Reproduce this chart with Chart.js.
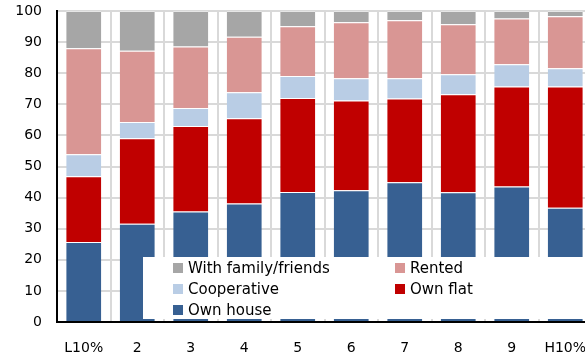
<!DOCTYPE html>
<html>
<head>
<meta charset="utf-8">
<script src="https://cdn.jsdelivr.net/npm/chart.js@4.4.1/dist/chart.umd.min.js"></script>
<style>
  html, body { margin: 0; padding: 0; background: #fff; overflow: hidden; }
  #wrap { position: relative; width: 594px; height: 356px; }
</style>
</head>
<body>
<div id="wrap"><canvas id="c" width="594" height="356"></canvas></div>
<script>
// Income deciles
const categories = ['L10%', '2', '3', '4', '5', '6', '7', '8', '9', 'H10%'];

// Housing tenure shares (% of households), stacked bottom to top
const ownHouse    = [25.7, 31.6, 35.5, 38.1, 41.8, 42.4, 44.9, 41.7, 43.6, 36.7];
const ownFlat     = [21.2, 27.5, 27.5, 27.4, 30.2, 28.8, 27.0, 31.5, 32.1, 39.0];
const cooperative = [ 7.0,  5.2,  5.8,  8.4,  7.1,  7.2,  6.5,  6.5,  7.2,  5.9];
const rented      = [34.1, 22.9, 19.8, 17.8, 16.0, 18.0, 18.6, 16.0, 14.7, 16.7];
const withFamily  = [12.0, 12.8, 11.4,  8.3,  4.9,  3.6,  3.0,  4.3,  2.4,  1.7];

const yTicks = [0, 10, 20, 30, 40, 50, 60, 70, 80, 90, 100];

const FONT = 'DejaVu Sans';
const COLORS = {
  house: '#376092',
  flat: '#c00000',
  coop: '#b9cde5',
  rented: '#d99694',
  family: '#a6a6a6'
};

const series = [
  { label: 'Own house', data: ownHouse, color: COLORS.house },
  { label: 'Own flat', data: ownFlat, color: COLORS.flat },
  { label: 'Cooperative', data: cooperative, color: COLORS.coop },
  { label: 'Rented', data: rented, color: COLORS.rented },
  { label: 'With family/friends', data: withFamily, color: COLORS.family }
];

// Legend drawn inside the plot area on a white panel, two columns
const insideLegend = {
  id: 'insideLegend',
  afterDatasetsDraw(chart) {
    const ctx = chart.ctx;
    const area = chart.chartArea;
    ctx.save();
    ctx.fillStyle = '#ffffff';
    ctx.fillRect(143, 257, 600, area.bottom - 3 - 257);
    const order = [4, 3, 2, 1, 0]; // family, rented, coop, flat, house
    const colX = [173, 395];
    const rowY = [268, 289, 310];
    ctx.font = '15px "' + FONT + '"';
    ctx.textBaseline = 'middle';
    ctx.textAlign = 'left';
    order.forEach((dsIndex, i) => {
      const ds = chart.data.datasets[dsIndex];
      const x = colX[i % 2];
      const y = rowY[Math.floor(i / 2)];
      ctx.fillStyle = ds.backgroundColor;
      ctx.fillRect(x, y - 5, 10, 10);
      ctx.fillStyle = '#000000';
      ctx.fillText(ds.label, x + 15, y + 1);
    });
    ctx.restore();
  }
};

new Chart(document.getElementById('c'), {
  type: 'bar',
  data: {
    labels: categories,
    datasets: series.map(s => ({
      label: s.label,
      data: s.data,
      backgroundColor: s.color,
      borderColor: 'rgba(255,255,255,0.35)',
      borderWidth: { top: 1, bottom: 0, left: 0, right: 0 },
      borderSkipped: false,
      categoryPercentage: 1.0,
      barPercentage: 0.655
    }))
  },
  options: {
    responsive: false,
    animation: false,
    devicePixelRatio: 1,
    layout: { padding: { top: 11, right: 2, left: 0, bottom: 0 } },
    plugins: {
      legend: { display: false },
      tooltip: { enabled: false }
    },
    scales: {
      x: {
        stacked: true,
        afterFit(axis) {
          axis.height = 34;
          axis.paddingLeft = 0;
          axis.paddingRight = 0;
        },
        grid: {
          display: true,
          offset: true,
          color: '#d9d9d9',
          lineWidth: 2,
          drawTicks: false
        },
        border: { display: true, color: '#000000', width: 2 },
        ticks: {
          color: '#000000',
          font: { family: FONT, size: 14 },
          padding: 18,
          maxRotation: 0,
          autoSkip: false
        }
      },
      y: {
        stacked: true,
        min: 0,
        max: 100,
        afterBuildTicks(axis) { axis.ticks = yTicks.map(v => ({ value: v })); },
        afterFit(axis) {
          axis.width = 57;
          axis.paddingTop = 0;
          axis.paddingBottom = 0;
        },
        grid: {
          color: '#d9d9d9',
          lineWidth: 2,
          drawTicks: false
        },
        border: { display: true, color: '#000000', width: 2 },
        ticks: {
          color: '#000000',
          font: { family: FONT, size: 14 },
          padding: 15
        }
      }
    }
  },
  plugins: [insideLegend]
});
</script>
</body>
</html>
